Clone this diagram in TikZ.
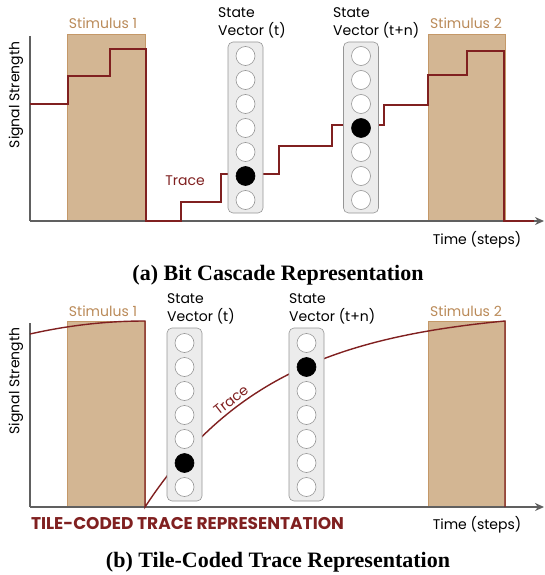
\documentclass[tikz,border=0pt]{standalone}
\usepackage{fontspec}
\usetikzlibrary{positioning}
\usetikzlibrary{arrows.meta}
\newfontfamily\figfont{Poppins}
\newfontfamily\capfont{Liberation Serif}
\definecolor{tracered}{RGB}{128,32,32}
\definecolor{stimfill}{RGB}{211,182,147}
\definecolor{stimedge}{RGB}{196,152,104}
\definecolor{stimtext}{RGB}{186,138,88}
\definecolor{axisgray}{RGB}{96,96,96}
\definecolor{vecfill}{RGB}{236,236,236}
\definecolor{vecedge}{RGB}{150,150,150}
\tikzset{
        % Stimulus boxes
        stim_box/.style={draw=stimedge, fill=stimfill, line width=0.8pt},
        stim_label/.style={text=stimtext, inner sep=0pt},
        % State vectors
        vec_box/.style={draw=vecedge, fill=vecfill, rounded corners=5pt, line width=0.6pt, minimum width=35pt, minimum height=171pt, inner sep=0pt},
        vec_label/.style={align=left, inner sep=0pt, font=\figfont\fontsize{14}{18}\selectfont},
        % Bits
        bit_off/.style={circle, draw=vecedge, fill=white, line width=0.6pt, minimum size=19pt, inner sep=0pt, outer sep=0pt},
        bit_on/.style={bit_off, draw=black, fill=black},
        % Curves and axes
        trace_line/.style={draw=tracered, line width=1.6pt},
        axis_line/.style={draw=axisgray, line width=1.6pt},
        plain_label/.style={inner sep=0pt},
        caption_text/.style={inner sep=0pt, font=\capfont\bfseries\fontsize{22}{24}\selectfont}
}
\begin{document}
\begin{tikzpicture}[x=1pt, y=-1pt, font=\figfont\fontsize{14}{16}\selectfont]
    \useasboundingbox (0,0) rectangle (544,575);

    % (a) bit cascade
    \node[stim_box, minimum width=78pt, minimum height=187pt, inner sep=0pt] (stimA1) at (106,127.5) {};
    \node[stim_box, minimum width=77pt, minimum height=187pt, inner sep=0pt] (stimA2) at (466.5,127.5) {};
    \node[stim_label] (stimA1l) at (103,23) {Stimulus 1};
    \node[stim_label] (stimA2l) at (466,23) {Stimulus 2};
    \draw[axis_line] (30,36) -- (30,221);
    \draw[axis_line, -{Stealth[length=9pt, width=8pt]}] (30,221) -- (544,221);
    \draw[trace_line] (30,104) -- (68,104) -- (68,76) -- (110,76) -- (110,49) -- (146,49)
        -- (146,221) -- (181,221) -- (181,202) -- (221,202) -- (221,174) -- (279,174)
        -- (279,146) -- (332,146) -- (332,125) -- (384,125) -- (384,105) -- (428,105)
        -- (428,75) -- (467,75) -- (467,51) -- (504,51) -- (504,221) -- (534,221);
    \node[plain_label, text=tracered] (traceA) at (185,181) {Trace};

    \node[vec_box] (vecAt) at (245.5,127.5) {};
    \node[bit_off] (at1) at (245.5,56) {};
    \node[bit_off, below=5pt of at1] (at2) {};
    \node[bit_off, below=5pt of at2] (at3) {};
    \node[bit_off, below=5pt of at3] (at4) {};
    \node[bit_off, below=5pt of at4] (at5) {};
    \node[bit_on, below=5pt of at5] (at6) {};
    \node[bit_off, below=5pt of at6] (at7) {};
    \node[vec_label, anchor=north west] (vecAtl) at (218,7) {State\\Vector (t)};

    \node[vec_box] (vecAn) at (361,127.5) {};
    \node[bit_off] (an1) at (361,56) {};
    \node[bit_off, below=5pt of an1] (an2) {};
    \node[bit_off, below=5pt of an2] (an3) {};
    \node[bit_on, below=5pt of an3] (an4) {};
    \node[bit_off, below=5pt of an4] (an5) {};
    \node[bit_off, below=5pt of an5] (an6) {};
    \node[bit_off, below=5pt of an6] (an7) {};
    \node[vec_label, anchor=north west] (vecAnl) at (333,7) {State\\Vector (t+n)};

    \node[plain_label] (timeA) at (477,240) {Time (steps)};
    \node[plain_label, rotate=90] (sigA) at (16,95) {Signal Strength};
    \node[caption_text] (capA) at (278,275) {(a) Bit Cascade Representation};

    % (b) tile-coded trace
    \node[stim_box, minimum width=78pt, minimum height=186pt, inner sep=0pt] (stimB1) at (106,414) {};
    \node[stim_box, minimum width=77pt, minimum height=186pt, inner sep=0pt] (stimB2) at (466.5,414) {};
    \node[stim_label] (stimB1l) at (103,311) {Stimulus 1};
    \node[stim_label] (stimB2l) at (466,311) {Stimulus 2};
    \draw[axis_line] (30,323) -- (30,507);
    \draw[axis_line, -{Stealth[length=9pt, width=8pt]}] (30,507) -- (544,507);
    \draw[trace_line, line width=1.4pt] plot[domain=30:145, samples=30] (\x, {321+13*((145-\x)/115)^2})
        -- (145,507)
        -- plot[domain=145:505, samples=80] (\x, {507-186*(1-exp(-(\x-145)/130))/(1-exp(-360/130))})
        -- (505,507);
    \node[plain_label, text=tracered, rotate=38] (traceB) at (231,400) {Trace};

    \node[vec_box, minimum height=173pt] (vecBt) at (184.5,414.5) {};
    \node[bit_off] (bt1) at (184.5,343) {};
    \node[bit_off, below=5pt of bt1] (bt2) {};
    \node[bit_off, below=5pt of bt2] (bt3) {};
    \node[bit_off, below=5pt of bt3] (bt4) {};
    \node[bit_off, below=5pt of bt4] (bt5) {};
    \node[bit_on, below=5pt of bt5] (bt6) {};
    \node[bit_off, below=5pt of bt6] (bt7) {};
    \node[vec_label, anchor=north west] (vecBtl) at (167,293) {State\\Vector (t)};

    \node[vec_box, minimum height=173pt] (vecBn) at (306.5,414.5) {};
    \node[bit_off] (bn1) at (306.5,343) {};
    \node[bit_on, below=5pt of bn1] (bn2) {};
    \node[bit_off, below=5pt of bn2] (bn3) {};
    \node[bit_off, below=5pt of bn3] (bn4) {};
    \node[bit_off, below=5pt of bn4] (bn5) {};
    \node[bit_off, below=5pt of bn5] (bn6) {};
    \node[bit_off, below=5pt of bn6] (bn7) {};
    \node[vec_label, anchor=north west] (vecBnl) at (289,293) {State\\Vector (t+n)};

    \node[plain_label, text=tracered, font=\figfont\bfseries\fontsize{17}{19}\selectfont] (tileB) at (187.5,524) {TILE-CODED TRACE REPRESENTATION};
    \node[plain_label] (timeB) at (477,525) {Time (steps)};
    \node[plain_label, rotate=90] (sigB) at (16,381) {Signal Strength};
    \node[caption_text] (capB) at (278,562) {(b) Tile-Coded Trace Representation};
\end{tikzpicture}
\end{document}
